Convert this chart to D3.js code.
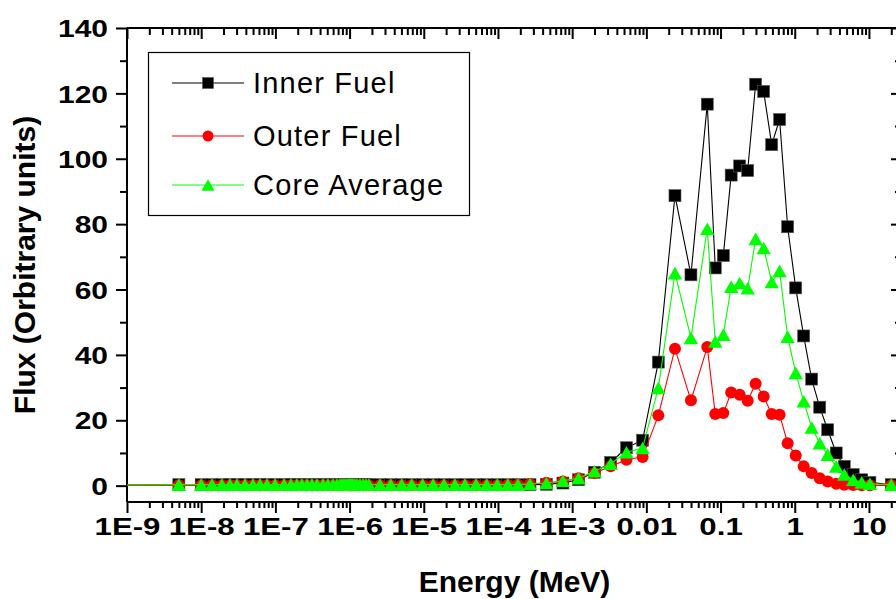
<!DOCTYPE html>
<html><head><meta charset="utf-8">
<script src="https://cdn.jsdelivr.net/npm/d3@7"></script>
<style>body{margin:0;background:#fff}svg{display:block}</style>
</head><body>
<script>
// ---------------- data ----------------
const energies = [1e-11,
  5e-9, 1e-8, 1.4e-8, 1.9e-8, 2.44e-8, 3.03e-8, 3.89e-8, 4.99e-8, 6.19e-8, 7.7e-8,
  9.9e-8, 1.31e-7, 1.62e-7, 1.95e-7, 2.28e-7, 2.67e-7, 3.11e-7, 3.64e-7, 4.39e-7, 5.12e-7,
  5.97e-7, 6.76e-7, 7.43e-7, 7.9e-7, 8.4e-7, 8.9e-7, 9.5e-7, 9.8e-7, 1.01e-6, 1.045e-6,
  1.077e-6, 1.11e-6, 1.18e-6, 1.26e-6, 1.38e-6, 1.52e-6, 1.66e-6, 1.82e-6, 2.57e-6, 3.58e-6,
  5.04e-6, 6.87e-6, 9.66e-6, 1.34e-5, 1.87e-5, 2.63e-5, 3.59e-5, 5.06e-5, 7.04e-5, 9.8e-5,
  1.36e-4, 1.86e-4,
  2.7e-4, 4.5e-4, 7.5e-4, 1.22e-3, 2.0e-3, 3.3e-3, 5.4e-3, 8.9e-3, 0.0145, 0.0243,
  0.0399, 0.0662, 0.0849, 0.109, 0.139, 0.181, 0.232, 0.297, 0.381, 0.489,
  0.625, 0.802, 1.03, 1.32, 1.69, 2.17, 2.78, 3.62, 4.65, 6.14,
  7.98, 10.3, 20];

const innerFuel = [0,
  0.3, 0.3, 0.3, 0.3, 0.3, 0.3, 0.3, 0.3, 0.3, 0.3,
  0.3, 0.3, 0.3, 0.3, 0.3, 0.3, 0.3, 0.3, 0.3, 0.3,
  0.3, 0.3, 0.3, 0.3, 0.3, 0.3, 0.3, 0.3, 0.3, 0.3,
  0.3, 0.3, 0.3, 0.3, 0.3, 0.3, 0.3, 0.3, 0.3, 0.3,
  0.3, 0.3, 0.3, 0.3, 0.3, 0.3, 0.3, 0.3, 0.3, 0.3,
  0.3, 0.3,
  0.3, 0.4, 0.8, 1.8, 4.1, 7.1, 11.6, 13.9, 37.8, 88.7,
  64.5, 116.7, 66.6, 70.4, 95.0, 97.8, 96.4, 122.8, 120.6, 104.3,
  112.0, 79.2, 60.5, 45.8, 32.6, 24.0, 17.1, 10.0, 5.9, 3.4,
  1.8, 1.0, 0.3];

const outerFuel = [0,
  0.1, 0.1, 0.1, 0.1, 0.1, 0.1, 0.1, 0.1, 0.1, 0.1,
  0.1, 0.1, 0.1, 0.1, 0.1, 0.1, 0.1, 0.1, 0.1, 0.1,
  0.1, 0.1, 0.1, 0.1, 0.1, 0.1, 0.1, 0.1, 0.1, 0.1,
  0.1, 0.1, 0.1, 0.1, 0.1, 0.1, 0.1, 0.1, 0.1, 0.1,
  0.1, 0.1, 0.1, 0.1, 0.1, 0.1, 0.1, 0.1, 0.1, 0.1,
  0.2, 0.3,
  0.5, 0.9, 1.3, 2.3, 3.9, 5.9, 7.9, 8.8, 21.5, 41.9,
  26.1, 42.4, 21.9, 22.2, 28.5, 27.8, 26.0, 31.2, 27.3, 21.9,
  21.7, 13.0, 9.2, 5.9, 3.9, 2.3, 1.3, 0.6, 0.3, 0.2,
  0.1, 0.1, 0.1];

const coreAverage = [0,
  0.3, 0.3, 0.3, 0.3, 0.3, 0.3, 0.3, 0.3, 0.3, 0.3,
  0.3, 0.3, 0.3, 0.3, 0.3, 0.3, 0.3, 0.3, 0.3, 0.3,
  0.3, 0.3, 0.3, 0.3, 0.3, 0.3, 0.3, 0.3, 0.3, 0.3,
  0.3, 0.3, 0.3, 0.3, 0.3, 0.3, 0.3, 0.3, 0.3, 0.3,
  0.3, 0.3, 0.3, 0.3, 0.3, 0.3, 0.3, 0.3, 0.3, 0.3,
  0.3, 0.3,
  0.5, 0.8, 1.5, 2.3, 4.4, 6.7, 10.2, 11.5, 29.9, 65.0,
  45.2, 78.6, 44.1, 46.2, 60.9, 62.0, 60.4, 75.5, 72.7, 62.3,
  65.7, 45.6, 34.5, 25.8, 17.8, 13.0, 9.5, 5.9, 3.4, 1.8,
  1.0, 0.6, 0.3];

const seriesNames = ["Inner Fuel", "Outer Fuel", "Core Average"];
const seriesColors = ["#000000", "#ff0000", "#00ff00"];
const seriesSymbols = ["square", "circle", "triangle"];

const xTickValues = [1e-9, 1e-8, 1e-7, 1e-6, 1e-5, 1e-4, 1e-3, 1e-2, 1e-1, 1, 10];
const xTickLabels = ["1E-9", "1E-8", "1E-7", "1E-6", "1E-5", "1E-4", "1E-3", "0.01", "0.1", "1", "10"];
const yTickValues = [0, 20, 40, 60, 80, 100, 120, 140];
const yMinorValues = [10, 30, 50, 70, 90, 110, 130];
const xTitle = "Energy (MeV)";
const yTitle = "Flux (Orbitrary units)";

// ---------------- layout ----------------
const W = 896, H = 599;
const L = 127, R = 902, T = 28, B = 502;
const FONT = "'Liberation Sans', Arial, Helvetica, sans-serif";

const svg = d3.select("body").append("svg").attr("width", W).attr("height", H);

const x = d3.scaleLog().domain([1e-9, 27.9]).range([L, R]);
const y = d3.scaleLinear().domain([-5, 140]).range([B, T]);

// minor log ticks
const xMinor = [];
for (let k = -9; k <= 1; k++) for (let m = 2; m <= 9; m++) {
  const v = m * Math.pow(10, k);
  if (v <= x.domain()[1]) xMinor.push(v);
}

// clip
svg.append("clipPath").attr("id", "clip").append("rect")
  .attr("x", L).attr("y", T).attr("width", R - L).attr("height", B - T);

function styleAxis(g) {
  g.selectAll("path.domain").attr("stroke", "#000").attr("stroke-width", 2);
  g.selectAll(".tick line").attr("stroke", "#000").attr("stroke-width", 2);
}

// bottom axis
const gB = svg.append("g").attr("transform", `translate(0,${B})`)
  .call(d3.axisBottom(x).tickValues(xTickValues).tickSize(11).tickSizeOuter(0)
    .tickFormat((d, i) => xTickLabels[i]));
svg.append("g").attr("transform", `translate(0,${B})`)
  .call(d3.axisBottom(x).tickValues(xMinor).tickSize(6).tickSizeOuter(0).tickFormat(""))
  .call(g => g.select("path.domain").remove()).call(styleAxis);
styleAxis(gB);
gB.selectAll(".tick text")
  .attr("y", 33).attr("dy", 0)
  .attr("font-family", FONT).attr("font-weight", "bold").attr("font-size", 24)
  .attr("fill", "#000").attr("transform", "scale(1.3,1)");

// top axis (inward ticks)
const gT = svg.append("g").attr("transform", `translate(0,${T})`)
  .call(d3.axisTop(x).tickValues(xTickValues).tickSize(-11).tickSizeOuter(0).tickFormat(""));
svg.append("g").attr("transform", `translate(0,${T})`)
  .call(d3.axisTop(x).tickValues(xMinor).tickSize(-7).tickSizeOuter(0).tickFormat(""))
  .call(g => g.select("path.domain").remove()).call(styleAxis);
styleAxis(gT);

// left axis
const gL = svg.append("g").attr("transform", `translate(${L},0)`)
  .call(d3.axisLeft(y).tickValues(yTickValues).tickSize(11).tickSizeOuter(0));
svg.append("g").attr("transform", `translate(${L},0)`)
  .call(d3.axisLeft(y).tickValues(yMinorValues).tickSize(7).tickSizeOuter(0).tickFormat(""))
  .call(g => g.select("path.domain").remove()).call(styleAxis);
styleAxis(gL);
gL.selectAll(".tick text")
  .attr("x", -19 / 1.25).attr("dy", "0.36em")
  .attr("font-family", FONT).attr("font-weight", "bold").attr("font-size", 24)
  .attr("fill", "#000").attr("transform", "scale(1.25,1)");

// right axis (inward ticks)
const gR = svg.append("g").attr("transform", `translate(${R},0)`)
  .call(d3.axisRight(y).tickValues(yTickValues).tickSize(-11).tickSizeOuter(0).tickFormat(""));
svg.append("g").attr("transform", `translate(${R},0)`)
  .call(d3.axisRight(y).tickValues(yMinorValues).tickSize(-7).tickSizeOuter(0).tickFormat(""))
  .call(g => g.select("path.domain").remove()).call(styleAxis);
styleAxis(gR);
// make the left/bottom domain lines reach the corners
gL.select("path.domain").attr("d", `M0,${T}V${B}`);
gR.select("path.domain").attr("d", `M0,${T}V${B}`);
gB.select("path.domain").attr("d", `M${L},0H${R}`);
gT.select("path.domain").attr("d", `M${L},0H${R}`);

// titles
svg.append("text").attr("x", (L + R) / 2).attr("y", 592)
  .attr("text-anchor", "middle").attr("font-family", FONT).attr("font-weight", "bold")
  .attr("font-size", 30).text(xTitle);
svg.append("text").attr("transform", `translate(35,${(T + B) / 2}) rotate(-90)`)
  .attr("text-anchor", "middle").attr("font-family", FONT).attr("font-weight", "bold")
  .attr("font-size", 30).text(yTitle);

// symbols
function drawSymbol(sel, type, color, s) {
  if (type === "square") {
    sel.append("rect").attr("x", -s / 2).attr("y", -s / 2).attr("width", s).attr("height", s)
      .attr("fill", color).attr("stroke", "#555").attr("stroke-width", 0.6);
  } else if (type === "circle") {
    sel.append("circle").attr("r", s / 2).attr("fill", color);
  } else {
    const w = s * 1.2, h = s * 1.05;
    sel.append("path").attr("d", `M0,${-h / 2}L${w / 2},${h / 2}L${-w / 2},${h / 2}Z`)
      .attr("fill", color);
  }
}

const plot = svg.append("g").attr("clip-path", "url(#clip)");
const seriesValues = [innerFuel, outerFuel, coreAverage];
const line = d3.line().x(d => x(d[0])).y(d => y(d[1]));

seriesValues.forEach((vals, si) => {
  const pts = energies.map((e, i) => [e, vals[i]]);
  plot.append("path").datum(pts).attr("d", line).attr("fill", "none")
    .attr("stroke", seriesColors[si]).attr("stroke-width", 1.1);
  plot.append("g").selectAll("g").data(pts).join("g")
    .attr("transform", d => `translate(${x(d[0])},${y(d[1])})`)
    .each(function () { drawSymbol(d3.select(this), seriesSymbols[si], seriesColors[si], si === 2 ? 12 : 12); });
});

// legend
const lg = svg.append("g");
lg.append("rect").attr("x", 148.5).attr("y", 52.5).attr("width", 321).attr("height", 163)
  .attr("fill", "#fff").attr("stroke", "#000").attr("stroke-width", 1.2);
const rowY = [83, 136, 185];
seriesNames.forEach((name, i) => {
  const g = lg.append("g");
  g.append("line").attr("x1", 172).attr("x2", 244).attr("y1", rowY[i]).attr("y2", rowY[i])
    .attr("stroke", seriesColors[i]).attr("stroke-width", 1);
  const m = g.append("g").attr("transform", `translate(208,${rowY[i]})`);
  drawSymbol(m, seriesSymbols[i], seriesColors[i], 11);
  g.append("text").attr("x", 253).attr("y", rowY[i] + 10)
    .attr("font-family", FONT).attr("font-size", 29).attr("letter-spacing", 1.2)
    .attr("fill", "#000").text(name);
});
</script>
</body></html>
